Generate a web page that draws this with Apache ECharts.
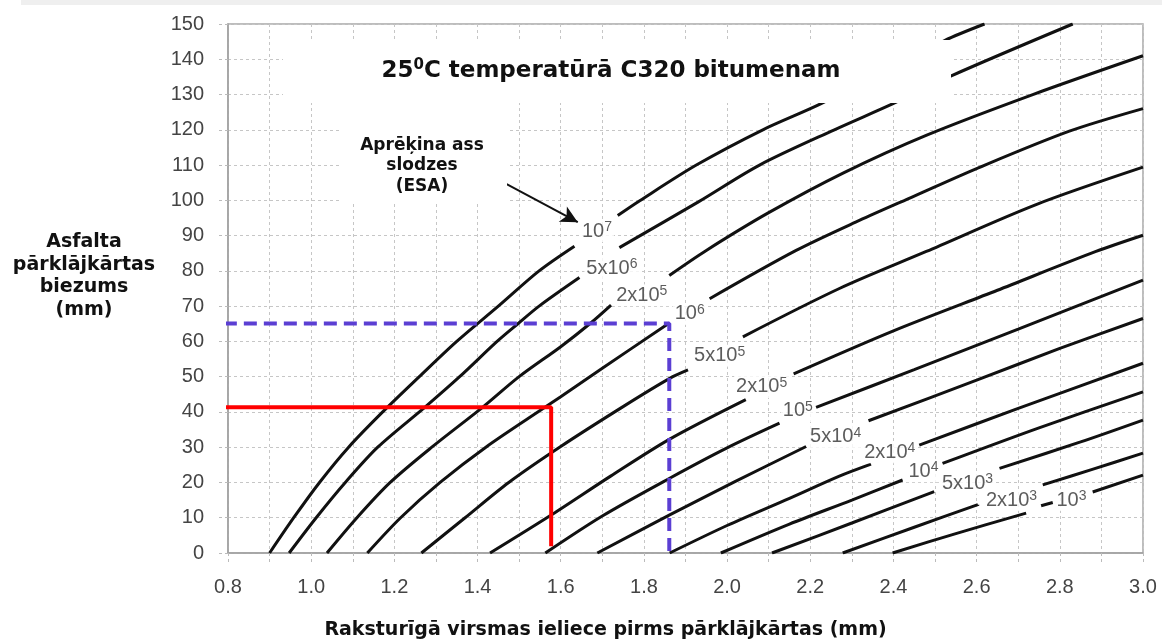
<!DOCTYPE html>
<html><head><meta charset="utf-8">
<script src="https://cdn.jsdelivr.net/npm/echarts@6/dist/echarts.min.js"></script>
<style>html,body{margin:0;padding:0;background:#fff}#c{width:1162px;height:641px}</style>
</head><body><div id="c"></div>
<script>
// ---- axis settings (values) ----
const xMin = 0.8, xMax = 3.0, xStep = 0.1;
const yMin = 0, yMax = 150, yStep = 10;

// ---- ESA curves: each curve is a list of visible segments of [deflection, thickness] ----
const curve_1e7 = [
  [[0.900,0],[0.958,10],[1.020,20],[1.090,30],[1.172,40],[1.260,50],[1.350,60],[1.450,70],[1.548,80],[1.633,87]],
  [[1.737,95.7],[1.790,99.9],[1.926,110],[2.086,120],[2.226,127.4],[2.523,145.3],[2.619,150]]
];
const curve_5e6 = [
  [[0.947,0],[1.012,10],[1.082,20],[1.160,30],[1.273,41.3],[1.357,50],[1.447,60],[1.497,65],[1.548,70],[1.645,78.1]],
  [[1.741,86.6],[1.930,99.5],[2.078,110],[2.258,120],[2.399,127.4],[2.539,135.3],[2.831,150]]
];
const curve_2e6 = [
  [[1.038,0],[1.110,10],[1.190,20],[1.290,30],[1.412,41.3],[1.500,50],[1.600,58.5],[1.670,65],[1.721,70.3]],
  [[1.861,78.7],[1.950,85.8],[2.100,96.5],[2.280,107.8],[2.480,118.5],[2.735,130],[3.0,141]]
];
const curve_1e6 = [
  [[1.135,0],[1.215,10],[1.310,20],[1.420,30],[1.562,41.3],[1.600,44.3],[1.700,52.4],[1.861,65.2]],
  [[1.958,72.1],[2.166,85.8],[2.318,94.3],[2.450,101.2],[2.600,109],[2.823,119.6],[3.0,126]]
];
const curve_5e5 = [
  [[1.265,0],[1.370,10],[1.475,20],[1.600,30.2],[1.750,41.5],[1.862,49.5],[1.906,51.9]],
  [[2.038,61.3],[2.270,75.0],[2.479,85.5],[2.743,98.8],[3.0,109.4]]
];
const curve_2e5 = [
  [[1.430,0],[1.580,11],[1.720,21.8],[1.862,32.3],[2.045,43.5]],
  [[2.160,50.8],[2.400,63],[2.650,74.5],[2.887,85.5],[3.0,90.1]]
];
const curve_1e5 = [
  [[1.563,0],[1.700,10.5],[1.862,21.2],[2.000,29.8],[2.126,36.8]],
  [[2.214,41.3],[2.450,52],[2.700,63.5],[3.0,77.4]]
];
const curve_5e4 = [
  [[1.688,0],[1.862,10.8],[2.020,20.3],[2.190,30.2]],
  [[2.340,37.5],[2.600,49],[2.800,58],[3.0,66.5]]
];
const curve_2e4 = [
  [[1.862,0],[2.000,7.8],[2.150,15.5],[2.270,21.8],[2.346,25.2]],
  [[2.462,30.6],[2.700,41],[3.0,53.8]]
];
const curve_1e4 = [
  [[1.985,0],[2.150,8.2],[2.300,15.0],[2.422,20.7]],
  [[2.518,25.4],[2.750,35.5],[3.0,45.7]]
];
const curve_5e3 = [
  [[2.108,0],[2.300,8.5],[2.498,17.4]],
  [[2.655,24.0],[2.850,31.5],[3.0,37.7]]
];
const curve_2e3 = [
  [[2.278,0],[2.450,7.3],[2.603,13.7]],
  [[2.759,19.3],[2.880,23.8],[3.0,28.3]]
];
const curve_1e3 = [
  [[2.398,0],[2.550,5.5],[2.719,11.3]],
  [[2.755,13.4],[2.783,14.3]],
  [[2.879,17.3],[3.0,22.1]]
];
const curves = [curve_1e7, curve_5e6, curve_2e6, curve_1e6, curve_5e5, curve_2e5, curve_1e5,
                curve_5e4, curve_2e4, curve_1e4, curve_5e3, curve_2e3, curve_1e3];

// ---- curve labels ----
const labelBase = ['10','5x10','2x10','10','5x10','2x10','10','5x10','2x10','10','5x10','2x10','10'];
const labelExp  = ['7','6','5','6','5','5','5','4','4','4','3','3','3'];
const labelAt   = [[1.687,91.3],[1.723,80.8],[1.795,73.1],[1.910,67.8],[1.982,55.9],[2.083,47.1],
                   [2.170,40.3],[2.261,32.9],[2.391,28.6],[2.472,23.2],[2.578,19.8],[2.684,15.0],[2.828,15.0]];

// ---- worked example guide lines ----
const redPath  = [[0.79,41.3],[1.577,41.3],[1.577,1.9]];
const bluePath = [[0.79,65.1],[1.861,65.1],[1.861,-1]];
const arrowFrom = [1.47,104.6], arrowTo = [1.641,93.8];

// ---- texts ----
const titleParts = ['25','0','C temperatūrā C320 bitumenam'];
const esaText = 'Aprēķina ass\nslodzes\n(ESA)';
const yName = 'Asfalta\npārklājkārtas\nbiezums\n(mm)';
const xName = 'Raksturīgā virsmas ieliece pirms pārklājkārtas (mm)';

const BOLD = '"DejaVu Sans", "Open Sans", sans-serif';
const PLAIN = '"Liberation Sans", Arial, sans-serif';

const series = [];
curves.forEach(function (c) {
  c.forEach(function (seg) {
    series.push({
      type: 'line', data: seg, smooth: 0.3, showSymbol: false,
      silent: true, lineStyle: { color: '#111', width: 3 }, z: 3
    });
  });
});
series.push({
  type: 'scatter', symbolSize: 0, silent: true, z: 6,
  data: labelAt.map(function (p, i) { return { value: p, base: labelBase[i], exp: labelExp[i] }; }),
  label: {
    show: true, position: 'inside',
    formatter: function (p) { return '{n|' + p.data.base + '}{s|' + p.data.exp + '}'; },
    backgroundColor: '#fff', padding: [0, 2, 0, 2],
    rich: {
      n: { fontSize: 20, lineHeight: 22, color: '#333', fontFamily: PLAIN },
      s: { fontSize: 14, lineHeight: 13, color: '#333', fontFamily: PLAIN, verticalAlign: 'top' }
    }
  }
});
series.push({
  type: 'line', data: redPath, showSymbol: false, clip: false, silent: true, z: 7,
  lineStyle: { color: '#ff0000', width: 4 }
});
series.push({
  type: 'line', data: bluePath, showSymbol: false, clip: false, silent: true, z: 7,
  lineStyle: { color: '#5b3fd3', width: 4, type: [13, 7] }
});
series.push({
  type: 'line', data: [], silent: true,
  markLine: {
    silent: true, symbol: ['none', 'arrow'], symbolSize: [13, 17], label: { show: false },
    lineStyle: { color: '#111', width: 2, type: 'solid' },
    data: [[{ coord: arrowFrom }, { coord: arrowTo }]]
  }
});

const chart = echarts.init(document.getElementById('c'), null, { renderer: 'canvas' });
chart.setOption({
  animation: false,
  backgroundColor: '#fff',
  grid: { left: 228, right: 19, top: 24, bottom: 88, show: true, borderColor: '#a8a8a8', borderWidth: 1.5,
          containLabel: false, outerBoundsMode: 'none' },
  xAxis: {
    type: 'value', min: xMin, max: xMax, interval: xStep,
    name: xName, nameLocation: 'middle', nameGap: 68,
    nameTextStyle: { fontFamily: BOLD, fontWeight: 'bold', fontSize: 19, color: '#111', padding: [0, 160, 0, 0] },
    axisLine: { lineStyle: { color: '#a0a0a0', width: 1.5 } },
    axisTick: { length: 12, lineStyle: { color: '#bbb', type: [3, 3] } },
    splitLine: { show: true, lineStyle: { color: '#c6c6c6', type: [3, 3], width: 1 } },
    axisLabel: {
      fontSize: 20, color: '#444', margin: 24, fontFamily: PLAIN,
      formatter: function (v) { const k = Math.round(v * 10); return k % 2 === 0 ? (k / 10).toFixed(1) : ''; }
    }
  },
  yAxis: {
    type: 'value', min: yMin, max: yMax, interval: yStep,
    axisLine: { show: true, lineStyle: { color: '#a0a0a0', width: 1.5 } },
    axisTick: { show: true, length: 12, lineStyle: { color: '#bbb', type: [3, 3] } },
    splitLine: { show: true, lineStyle: { color: '#c6c6c6', type: [3, 3], width: 1 } },
    axisLabel: { fontSize: 20, color: '#444', margin: 24, fontFamily: PLAIN }
  },
  graphic: [
    { type: 'rect', z: 100, shape: { x: 21, y: 0, width: 1141, height: 5 }, style: { fill: '#efefef' } },
    { type: 'rect', z: 100, shape: { x: 283, y: 40, width: 668, height: 63 }, style: { fill: '#fff' } },
    { type: 'rect', z: 100, shape: { x: 339, y: 103, width: 168, height: 100 }, style: { fill: '#fff' } },
    { type: 'text', z: 101, x: 611, y: 71, style: {
        text: '{a|' + titleParts[0] + '}{s|' + titleParts[1] + '}{a|' + titleParts[2] + '}',
        align: 'center', verticalAlign: 'middle',
        rich: {
          a: { fontFamily: BOLD, fontWeight: 'bold', fontSize: 23, lineHeight: 27, fill: '#111' },
          s: { fontFamily: BOLD, fontWeight: 'bold', fontSize: 15, lineHeight: 19, fill: '#111', verticalAlign: 'top' }
        } } },
    { type: 'text', z: 101, x: 422, y: 166, style: {
        text: esaText, align: 'center', verticalAlign: 'middle',
        font: 'bold 17px ' + BOLD, lineHeight: 20.5, fill: '#111' } },
    { type: 'text', z: 101, x: 84, y: 276, style: {
        text: yName, align: 'center', verticalAlign: 'middle',
        font: 'bold 19px ' + BOLD, lineHeight: 22.5, fill: '#111' } }
  ],
  series: series
});
</script></body></html>
